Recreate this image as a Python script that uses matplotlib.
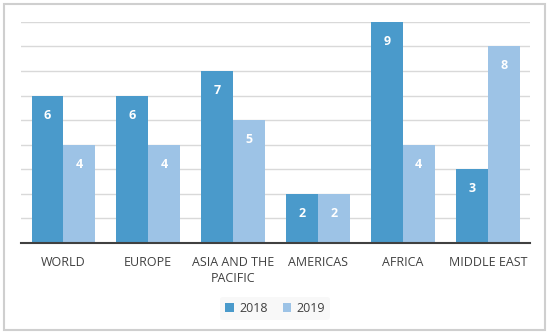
import numpy as np
import matplotlib.pyplot as plt
from matplotlib.patches import Rectangle

regions = ['WORLD', 'EUROPE', 'ASIA AND THE\nPACIFIC', 'AMERICAS', 'AFRICA', 'MIDDLE EAST']
vals_2018 = [6, 6, 7, 2, 9, 3]
vals_2019 = [4, 4, 5, 2, 4, 8]

c2018 = '#4a9acb'
c2019 = '#9dc3e6'

plt.rcParams['font.family'] = ['Open Sans', 'DejaVu Sans']

fig = plt.figure(figsize=(5.5, 3.35), dpi=100)
ax = fig.add_axes([0.038, 0.2746, 0.926, 0.66])

x = np.arange(len(regions))
w = 0.375
b1 = ax.bar(x - w / 2, vals_2018, w, color=c2018, label='2018', zorder=3)
b2 = ax.bar(x + w / 2, vals_2019, w, color=c2019, label='2019', zorder=3)

for bars in (b1, b2):
    for r in bars:
        ax.annotate(str(int(r.get_height())), (r.get_x() + r.get_width() / 2, r.get_height()),
                    xytext=(0, -14), textcoords='offset points', ha='center', va='center',
                    color='white', fontsize=9, fontweight='bold', zorder=4)

ax.set_xlim(-0.5, len(regions) - 0.5)
ax.set_ylim(0, 9)
ax.set_yticks(range(0, 10))
ax.yaxis.grid(True, color='#d9d9d9', linewidth=1, zorder=0)
ax.tick_params(axis='y', left=False, labelleft=False)
ax.tick_params(axis='x', bottom=False, pad=6, labelsize=9, labelcolor='#404040')
ax.set_xticks(x)
ax.set_xticklabels(regions, linespacing=1.3)
for s in ['top', 'right', 'left']:
    ax.spines[s].set_visible(False)
ax.spines['bottom'].set_color('#404040')
ax.spines['bottom'].set_linewidth(1.5)
ax.spines['bottom'].set_zorder(5)

leg = fig.legend(loc='center', bbox_to_anchor=(0.5, 0.08), ncol=2, frameon=True,
                 fontsize=9, handlelength=0.7, handleheight=0.7, handletextpad=0.4,
                 columnspacing=1.2)
leg.get_frame().set_facecolor('#f7f7f7')
leg.get_frame().set_edgecolor('none')
for t in leg.get_texts():
    t.set_color('#404040')

fig.patches.append(Rectangle((4 / 550, 5 / 335), 541 / 550, 326 / 335, transform=fig.transFigure,
                             fill=False, edgecolor='#cfcfcf', linewidth=1.5))

plt.savefig('out.png', dpi=100)
